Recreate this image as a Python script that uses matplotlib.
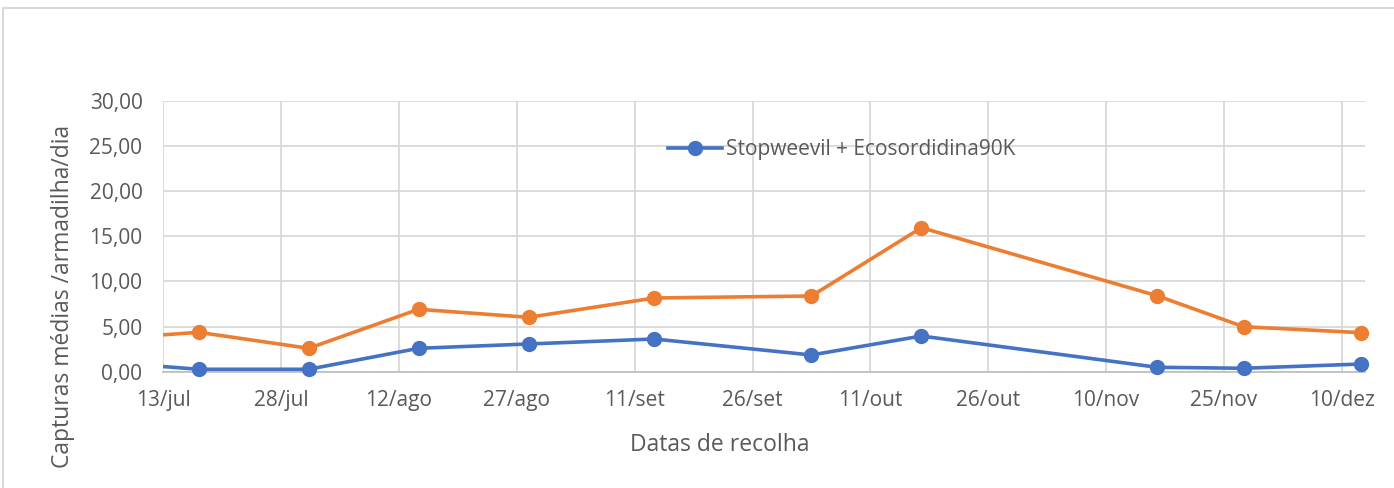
import numpy as np
import pandas as pd
import matplotlib
matplotlib.use("Agg")
import matplotlib.pyplot as plt
from matplotlib.lines import Line2D
from matplotlib.patches import Rectangle

# collection dates and mean captures per trap per day
datas = ["2021-07-03", "2021-07-17", "2021-07-31", "2021-08-14", "2021-08-28",
         "2021-09-13", "2021-10-03", "2021-10-17", "2021-11-16", "2021-11-27",
         "2021-12-12"]
stopweevil = [1.2, 0.27, 0.27, 2.59, 3.07, 3.62, 1.85, 3.95, 0.49, 0.38, 0.85]
outra_serie = [3.5, 4.36, 2.59, 6.91, 6.02, 8.16, 8.38, 15.94, 8.41, 4.98, 4.32]
ticks = pd.date_range("2021-07-13", "2021-12-10", freq="15D")
tick_labels = ["13/jul", "28/jul", "12/ago", "27/ago", "11/set", "26/set",
               "11/out", "26/out", "10/nov", "25/nov", "10/dez"]

plt.rcParams['font.family'] = ['Open Sans', 'DejaVu Sans']

BLUE = "#4472C4"
ORANGE = "#ED7D31"
GREY = "#595959"

x = pd.to_datetime(datas) + pd.Timedelta(hours=12)

fig = plt.figure(figsize=(13.94, 4.88), dpi=100)
ax = fig.add_axes([163.3/1394, 1-371.7/488, (1365.3-163.3)/1394, (371.7-100.7)/488])

# lines are clipped at the axis, markers are not (the last one sticks out)
ax.plot(x, outra_serie, color=ORANGE, lw=2.6, solid_capstyle="round", zorder=3)
ax.plot(x, stopweevil, color=BLUE, lw=2.6, solid_capstyle="round", zorder=4)
ax.plot(x[1:], outra_serie[1:], ls="none", marker="o", ms=10, color=ORANGE,
        clip_on=False, zorder=5)
ax.plot(x[1:], stopweevil[1:], ls="none", marker="o", ms=10, color=BLUE,
        clip_on=False, zorder=6)

ax.set_xlim(pd.Timestamp("2021-07-13"), pd.Timestamp("2021-12-13"))
ax.set_ylim(0, 30)
yt = np.arange(0, 31, 5)
ax.set_yticks(yt)
ax.set_yticklabels([("%.2f" % v).replace(".", ",") for v in yt])
ax.set_xticks(ticks)
ax.set_xticklabels(tick_labels)

ax.grid(True, color="#D9D9D9", lw=1.3)
ax.set_axisbelow(True)
for s in ["top", "right", "left"]:
    ax.spines[s].set_visible(False)
ax.spines["bottom"].set_color("#BFBFBF")
ax.spines["bottom"].set_linewidth(1.3)
ax.tick_params(length=0, labelsize=15, colors=GREY)
ax.tick_params(axis="x", pad=13)
ax.tick_params(axis="y", pad=15)

ax.set_xlabel("Datas de recolha", fontsize=16.5, color=GREY)
ax.set_ylabel("Capturas médias /armadilha/dia", fontsize=16.5, color=GREY)
ax.xaxis.set_label_coords((720-163.3)/1202, -(445-371.7)/271)
ax.yaxis.set_label_coords(-(163.3-63)/1202, (371.7-296)/271)
ax.xaxis.label.set_va("center")
ax.yaxis.label.set_va("center")

handle = Line2D([], [], color=BLUE, lw=2.6, marker="o", ms=10)
leg = ax.legend([handle], ["Stopweevil + Ecosordidina90K"], loc="center",
                bbox_to_anchor=((842-163.3)/1202, (371.7-150)/271),
                frameon=False, fontsize=15, handlelength=2.6, handletextpad=0.2)
for t in leg.get_texts():
    t.set_color(GREY)

fig.patches.append(Rectangle((3/1394, -0.1), 1.2, 1-8/488+0.1, transform=fig.transFigure,
                             fill=False, edgecolor="#D9D9D9", lw=1.5))

fig.savefig("out.png", dpi=100)
